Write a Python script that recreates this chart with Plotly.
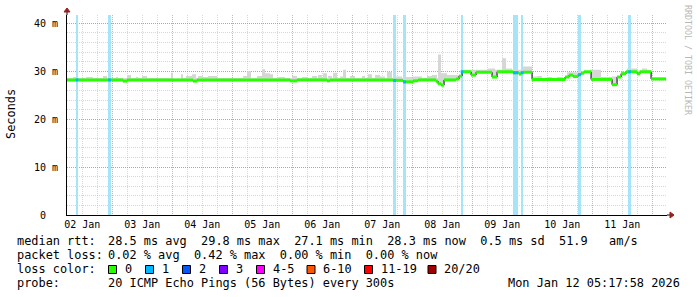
import numpy as np
import pandas as pd
import plotly.graph_objects as go

# ---------------- data (hours since 2026-01-02 00:00, values in ms) ----------------
T0 = pd.Timestamp("2026-01-02 00:00")
RANGE_HOURS = [5.88, 245.88]

# median rtt, step series (change points)
median_hours = [5.9, 28.3, 29.9, 56.3, 57.9, 95.1, 97.9, 109.9, 111.1, 136.3, 140.3, 144.3,
                146.3, 153.5, 154.3, 155.5, 156.7, 161.5, 162.7, 163.9, 167.5, 169.5, 175.9,
                177.9, 184.3, 186.7, 187.5, 188.3, 191.9, 205.1, 206.7, 208.3, 210.3, 211.5,
                212.7, 215.5, 223.9, 225.9, 227.5, 229.5, 233.9, 235.1, 239.5, 245.5]
median_ms = [28.2, 27.95, 28.2, 27.95, 28.2, 28.0, 28.2, 28.0, 28.2, 28.1, 27.8, 28.0,
             28.2, 27.9, 27.4, 27.1, 28.2, 28.4, 29.0, 29.9, 29.2, 29.8, 28.8,
             29.9, 29.7, 29.4, 29.7, 29.8, 28.3, 28.8, 29.2, 28.9, 29.3, 29.6,
             29.9, 28.3, 27.2, 28.8, 29.5, 29.9, 29.5, 29.9, 28.4, 28.4]

# smoke (max of the pings), step series (change points)
smoke_hours = [5.9, 8.3, 10.3, 13.5, 16.3, 20.3, 21.9, 25.5, 26.3, 29.9, 31.5, 33.5, 34.3,
               35.9, 37.9, 47.5, 48.3, 51.5, 52.3, 53.5, 55.9, 57.5, 58.3, 60.3, 62.3, 65.9,
               76.3, 77.9, 79.5, 81.9, 83.9, 85.1, 87.1, 88.3, 90.3, 93.1, 95.9, 97.9,
               99.9, 101.9, 103.9, 105.9, 106.3, 107.9, 108.3, 109.9, 110.3, 111.9, 112.3,
               113.9, 115.1, 116.3, 117.5, 119.1, 121.1, 123.9, 125.1, 126.3, 127.9, 129.1,
               131.1, 133.1, 133.9, 135.9, 137.1, 139.9, 141.1, 143.9, 144.3, 147.9, 149.9,
               151.9, 153.9, 154.3, 155.5, 157.9, 161.9, 163.9, 174.3, 177.1, 179.9, 181.5,
               183.9, 188.3, 191.9, 193.9, 195.9, 197.9, 199.9, 201.9, 204.3, 205.9, 211.1,
               215.1, 219.5, 223.9, 227.9, 229.9, 233.9, 235.9, 237.9, 239.9, 245.5]
smoke_ms = [28.6, 28.8, 28.6, 28.8, 28.6, 29.0, 28.6, 28.8, 28.6, 29.2, 28.6, 28.8, 28.6,
            29.0, 28.6, 29.7, 28.5, 29.4, 28.6, 29.0, 29.4, 28.6, 29.0, 28.8, 29.0, 28.6,
            29.0, 30.0, 28.6, 29.0, 30.4, 29.6, 29.4, 28.6, 28.8, 28.6, 29.0, 28.6,
            28.8, 28.6, 29.0, 28.6, 29.2, 28.6, 29.6, 28.6, 29.0, 28.6, 29.7,
            28.6, 28.9, 30.3, 28.6, 29.0, 28.6, 29.0, 28.6, 29.4, 28.6, 29.2,
            28.9, 28.6, 29.9, 28.6, 28.9, 28.6, 28.8, 28.6, 28.9, 28.6, 29.0,
            29.2, 28.6, 33.5, 29.6, 29.2, 29.2, 30.3, 30.6, 30.3, 32.7, 30.6,
            30.3, 31.0, 28.9, 29.0, 28.6, 28.8, 28.6, 28.8, 28.6, 29.8, 30.0,
            30.3, 28.8, 28.9, 29.9, 30.6, 30.2, 30.6, 30.2, 28.7, 28.7]

# loss events (hour centre, lost pings of 20)
loss_hours = [9.9, 22.9, 136.9, 140.9, 163.9, 184.8, 185.8, 187.9, 210.9, 230.9]
loss_count = [1, 1, 1, 1, 1, 1, 1, 1, 1, 1]

# y axis ticks
y_tickvals = [0, 10, 20, 30, 40]
y_ticktext = ["0\u00a0\u00a0", "10 m", "20 m", "30 m", "40 m"]

# legend
loss_labels = ["0", "1", "2", "3", "4-5", "6-10", "11-19", "20/20"]
loss_colors = ["#26ff00", "#00b8ff", "#0059ff", "#7e00ff", "#ff00ff", "#ff5500", "#ff0000", "#a10000"]
legend_rows = [
    ("median rtt:", "28.5 ms avg  29.8 ms max  27.1 ms min  28.3 ms now  0.5 ms sd  51.9   am/s"),
    ("packet loss:", "0.02 % avg  0.42 % max  0.00 % min  0.00 % now"),
    ("loss color:", ""),
    ("probe:", "20 ICMP Echo Pings (56 Bytes) every 300s"),
]
timestamp_text = "Mon Jan 12 05:17:58 2026"

# ---------------- helpers ----------------
def ts(hours):
    return [T0 + pd.Timedelta(hours=float(h)) for h in hours]

FONT = "DejaVu Sans Mono"
W, H = 697, 297
L, R, T, B = 67, 30, 15, 82
PW, PH = W - L - R, H - T - B
Y_TOP = 41.75

def px(x):
    return (x - L) / PW

def py(y):
    return (H - B - y) / PH

def nb(s):
    return s.replace(" ", "\u00a0")

fig = go.Figure()

# smoke: fill between median and smoke top
fig.add_trace(go.Scatter(x=ts(median_hours), y=median_ms, mode="lines", line=dict(width=0, shape="hv"),
                         hoverinfo="skip", showlegend=False))
fig.add_trace(go.Scatter(x=ts(smoke_hours), y=smoke_ms, mode="lines", line=dict(width=0, shape="hv"),
                         fill="tonexty", fillcolor="#d6d6d6", hoverinfo="skip", showlegend=False))

# loss background bars (full height)
fig.add_trace(go.Bar(x=ts(loss_hours), y=[Y_TOP] * len(loss_hours), base=0,
                     width=[1.1 * 3600000] * len(loss_hours),
                     marker=dict(color="#a6e4fa", line=dict(width=0)), hoverinfo="skip", showlegend=False))

# black median line
fig.add_trace(go.Scatter(x=ts(median_hours), y=median_ms, mode="lines",
                         line=dict(width=1, color="#000000", shape="hv"), hoverinfo="skip", showlegend=False))

# green horizontal segments
gx, gy = [], []
mt = ts(median_hours)
for i in range(len(median_hours) - 1):
    gx += [mt[i], mt[i + 1], None]
    gy += [median_ms[i], median_ms[i], None]
fig.add_trace(go.Scatter(x=gx, y=gy, mode="lines", line=dict(width=3, color=loss_colors[0]),
                         hoverinfo="skip", showlegend=False))

# loss-coloured pieces of the median
cx, cy = [], []
for h, c in zip(loss_hours, loss_count):
    idx = int(np.searchsorted(median_hours, h, side="right") - 1)
    v = median_ms[idx]
    cx += ts([h - 0.55, h + 0.55]) + [None]
    cy += [v, v, None]
fig.add_trace(go.Scatter(x=cx, y=cy, mode="lines", line=dict(width=3, color=loss_colors[1]),
                         hoverinfo="skip", showlegend=False))

major_grid = "rgba(255,94,94,0.6)"
minor_grid = "rgba(160,160,160,0.42)"

fig.update_layout(
    width=W, height=H, margin=dict(l=L, r=R, t=T, b=B, pad=0),
    paper_bgcolor="white", plot_bgcolor="white",
    bargap=0, showlegend=False,
    font=dict(family=FONT, size=10, color="#000000"),
    xaxis=dict(type="date", range=ts(RANGE_HOURS), dtick=86400000, tick0="2026-01-02",
               tickformat="%d %b", ticklabelmode="period", showgrid=True, gridcolor=major_grid,
               griddash="1px,1px", gridwidth=1, zeroline=False, showline=True, linecolor="#000000",
               linewidth=1, ticks="", tickfont=dict(family=FONT, size=10, color="#000000"),
               minor=dict(dtick=6 * 3600000, tick0="2026-01-02", showgrid=True, gridcolor=minor_grid,
                          griddash="1px,1px", gridwidth=1),
               fixedrange=True),
    yaxis=dict(range=[0, Y_TOP], tickvals=y_tickvals, ticktext=y_ticktext, showgrid=True,
               gridcolor=major_grid, griddash="1px,1px", gridwidth=1, zeroline=False, showline=True,
               linecolor="#000000", linewidth=1, ticks="", ticklabelstandoff=6,
               tickfont=dict(family=FONT, size=10, color="#000000"),
               minor=dict(dtick=2, showgrid=True, gridcolor=minor_grid, griddash="1px,1px", gridwidth=1),
               fixedrange=True),
)

annotations = []
shapes = []

# y title
annotations.append(dict(text="Seconds", textangle=-90, x=px(11), y=py(114), xref="paper", yref="paper",
                        showarrow=False, font=dict(family=FONT, size=11.9, color="#000000"),
                        xanchor="center", yanchor="middle"))
# watermark
annotations.append(dict(text="RRDTOOL / TOBI OETIKER", textangle=90, x=px(688), y=py(60), xref="paper",
                        yref="paper", showarrow=False, font=dict(family=FONT, size=8.3, color="#b8b8b8"),
                        xanchor="center", yanchor="middle"))

row_y = [241, 255, 269, 283]
for (lab, rest), yy in zip(legend_rows, row_y):
    annotations.append(dict(text=nb(lab), x=px(16), y=py(yy), xref="paper", yref="paper", showarrow=False,
                            xanchor="left", yanchor="middle", borderpad=0,
                            font=dict(family=FONT, size=11.9, color="#000000")))
    if rest:
        annotations.append(dict(text=nb(rest), x=px(107.3), y=py(yy), xref="paper", yref="paper",
                                showarrow=False, xanchor="left", yanchor="middle", borderpad=0,
                                font=dict(family=FONT, size=11.9, color="#000000")))
annotations.append(dict(text=nb(timestamp_text), x=px(681), y=py(283), xref="paper", yref="paper",
                        showarrow=False, xanchor="right", yanchor="middle", borderpad=0,
                        font=dict(family=FONT, size=11.9, color="#000000")))

box_x = [108.5, 145.5, 182.5, 219.5, 256.5, 307.0, 364.5, 428.0]
for bx, lab, col in zip(box_x, loss_labels, loss_colors):
    shapes.append(dict(type="rect", xref="paper", yref="paper", x0=px(bx), x1=px(bx + 8),
                       y0=py(273.5), y1=py(265.5), fillcolor=col, line=dict(color="#000000", width=1)))
    annotations.append(dict(text=nb(lab), x=px(bx + 15.3), y=py(269), xref="paper", yref="paper",
                            showarrow=False, xanchor="left", yanchor="middle", borderpad=0,
                            font=dict(family=FONT, size=11.9, color="#000000")))

# axis arrows
arrow_col = "#9b1c1c"
shapes.append(dict(type="path", xref="paper", yref="paper", xsizemode="pixel", ysizemode="pixel",
                   xanchor=1, yanchor=0, path="M 0,0 L 3,0", line=dict(color="#000000", width=1)))
shapes.append(dict(type="path", xref="paper", yref="paper", xsizemode="pixel", ysizemode="pixel",
                   xanchor=1, yanchor=0, path="M 3,-3 L 7,0 L 3,3 Z", fillcolor=arrow_col,
                   line=dict(color=arrow_col, width=1)))
shapes.append(dict(type="path", xref="paper", yref="paper", xsizemode="pixel", ysizemode="pixel",
                   xanchor=0, yanchor=1, path="M 0,0 L 0,3", line=dict(color="#000000", width=1)))
shapes.append(dict(type="path", xref="paper", yref="paper", xsizemode="pixel", ysizemode="pixel",
                   xanchor=0, yanchor=1, path="M -3,3 L 0,7 L 3,3 Z", fillcolor=arrow_col,
                   line=dict(color=arrow_col, width=1)))

fig.update_layout(annotations=annotations, shapes=shapes)
fig.write_html("out.html")
